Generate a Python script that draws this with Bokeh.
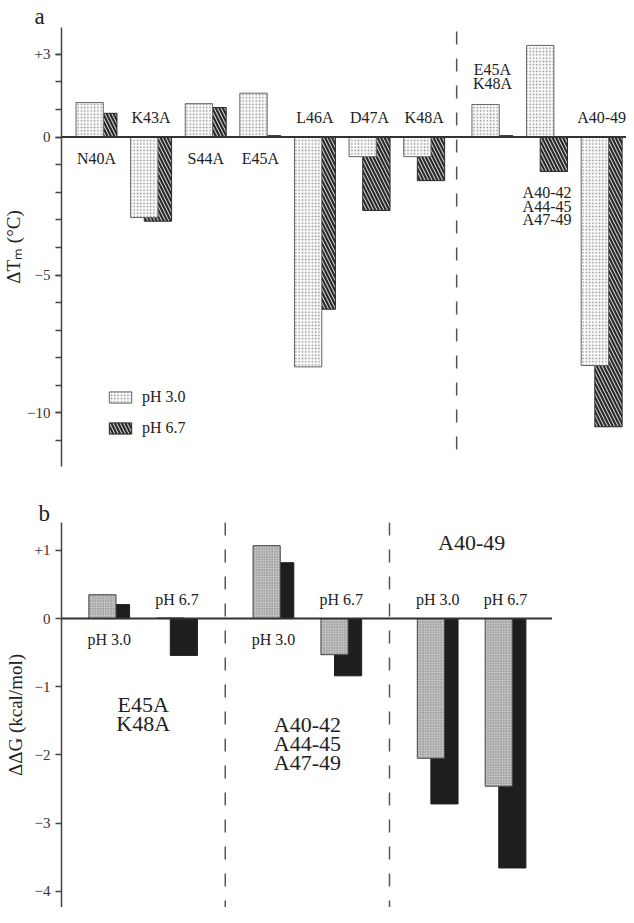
import numpy as np
from bokeh.plotting import figure
from bokeh.layouts import column
from bokeh.models import (ColumnDataSource, FixedTicker, Span, Legend, LegendItem,
                          Range1d, Title)
from bokeh.core.properties import value
from bokeh.embed import file_html
from bokeh.resources import INLINE

# ---------------- data: panel a (delta Tm, degrees C) ----------------
mutants_a = ["N40A", "K43A", "S44A", "E45A", "L46A", "D47A", "K48A",
             "E45A\nK48A", "A40-42\nA44-45\nA47-49", "A40-49"]
dtm_ph30 = [1.25, -2.92, 1.21, 1.59, -8.33, -0.71, -0.71, 1.18, 3.32, -8.28]
dtm_ph67 = [0.86, -3.05, 1.07, 0.05, -6.24, -2.66, -1.58, 0.05, -1.25, -10.5]
label_place_a = ["below", "above", "below", "below", "above", "above", "above",
                 "over", "under", "above"]
n_single = 7
yticks_a = [-10, -5, 0, 3]

# ---------------- data: panel b (delta delta G, kcal/mol) ----------------
groups_b = ["E45A\nK48A", "A40-42\nA44-45\nA47-49", "A40-49"]
conds_b = ["pH 3.0", "pH 6.7"]
ddg_gray = [0.35, 0.01, 1.07, -0.53, -2.05, -2.46]
ddg_black = [0.205, -0.54, 0.82, -0.84, -2.72, -3.66]
yticks_b = [-4, -3, -2, -1, 0, 1]

SERIF = "Liberation Serif"

# ---------------- panel a ----------------
ya = (-11.94, 3.97)
xa = (-0.516, 9.83)
W1, H1 = 626, 472
MB_L1, MB_T1, MB_B1 = 55, 27, 6
p1 = figure(width=W1, height=H1, x_range=Range1d(*xa), y_range=Range1d(*ya),
            output_backend="svg", toolbar_location=None,
            min_border_left=MB_L1, min_border_right=0, min_border_top=MB_T1,
            min_border_bottom=MB_B1)
ppu_a = (H1 - MB_T1 - MB_B1) / (ya[1] - ya[0])

pos_a = np.array([i + (0.25 if i >= n_single else 0.0) for i in range(len(mutants_a))])
src_a = ColumnDataSource(dict(x30=pos_a, x67=pos_a + 0.25, v30=dtm_ph30, v67=dtm_ph67))

r67 = p1.vbar(x="x67", top="v67", bottom=0, width=0.5, source=src_a,
              fill_color="#2b2b2b", line_color="#2b2b2b", line_width=1,
              hatch_pattern="left_diagonal_line", hatch_color="white",
              hatch_weight=0.9, hatch_scale=7)
r30 = p1.vbar(x="x30", top="v30", bottom=0, width=0.5, source=src_a,
              fill_color="#fafafa", line_color="#666666", line_width=1,
              hatch_pattern="dot", hatch_color="#8a8a8a", hatch_weight=1,
              hatch_scale=3.3)

p1.add_layout(Span(location=0, dimension="width", line_color="#333333", line_width=2))

sep_a = (pos_a[n_single - 1] + pos_a[n_single]) / 2 + 0.095
p1.segment(x0=[sep_a], x1=[sep_a], y0=[-(457 - 144.5) / ppu_a], y1=[ya[1]],
           line_color="#555555", line_width=1.5, line_dash="13 14")

lx, ly, lt = [], [], []
for i, name in enumerate(mutants_a):
    lines = name.split("\n")
    cx = pos_a[i] + 0.125
    pl = label_place_a[i]
    n = len(lines)
    for j, t in enumerate(lines):
        if pl == "above":
            y = 19.5 / ppu_a
        elif pl == "below":
            y = -21.5 / ppu_a
        elif pl == "over":
            y = max(dtm_ph30[i], dtm_ph67[i]) + (21 + 14 * (n - 1 - j)) / ppu_a
        else:
            y = min(dtm_ph30[i], dtm_ph67[i]) - (21 + 13.5 * j) / ppu_a
        lx.append(cx); ly.append(y); lt.append(t)
p1.text(x=lx, y=ly, text=lt, text_font=value(SERIF), text_font_size="16px",
        text_align="center", text_baseline="middle", text_color="#222222")

p1.add_layout(Title(text="a", text_font=SERIF, text_font_size="23px",
                    text_font_style="normal", text_color="#222222",
                    align="left", offset=-27, standoff=-2), "above")

leg = Legend(items=[LegendItem(label="pH 3.0", renderers=[r30]),
                    LegendItem(label="pH 6.7", renderers=[r67])],
             location=(45, 29), padding=0, margin=0, spacing=13,
             glyph_width=28, glyph_height=14, label_height=14, label_standoff=8,
             label_text_font=SERIF, label_text_font_size="16px",
             label_text_color="#222222",
             border_line_alpha=0, background_fill_alpha=0)
p1.add_layout(leg)

# ---------------- panel b ----------------
yb = (-4.24, 1.41)
xb = (-0.603, 6.632)
W2, H2 = 552, 435
MB_L2, MB_T2 = 60, 50
p2 = figure(width=W2, height=H2, x_range=Range1d(*xb), y_range=Range1d(*yb),
            output_backend="svg", toolbar_location=None,
            min_border_left=MB_L2, min_border_right=0, min_border_top=MB_T2,
            min_border_bottom=0)
ppu_b = (H2 - MB_T2) / (yb[1] - yb[0])

gstep = 2.42
pos_b = np.array([g * gstep + k for g in range(len(groups_b)) for k in range(len(conds_b))])
src_b = ColumnDataSource(dict(xg=pos_b, xk=pos_b + 0.2, vg=ddg_gray, vk=ddg_black))
p2.vbar(x="xk", top="vk", bottom=0, width=0.4, source=src_b,
        fill_color="#1e1e1e", line_color="#1e1e1e", line_width=1)
p2.vbar(x="xg", top="vg", bottom=0, width=0.4, source=src_b,
        fill_color="#c4c4c4", line_color="#444444", line_width=1,
        hatch_pattern="dot", hatch_color="#6a6a6a", hatch_weight=1, hatch_scale=2.6)

p2.add_layout(Span(location=0, dimension="width", line_color="#333333", line_width=2))
for g in range(1, len(groups_b)):
    p2.add_layout(Span(location=g * gstep - 0.61, dimension="height",
                       line_color="#555555", line_width=1.5, line_dash="13 14"))

tx, ty, tt = [], [], []
for i in range(len(pos_b)):
    cx = pos_b[i] + 0.1
    y = -21 / ppu_b if ddg_black[i] > 0 else 19.5 / ppu_b
    tx.append(cx); ty.append(y); tt.append(conds_b[i % 2])
p2.text(x=tx, y=ty, text=tt, text_font=value(SERIF), text_font_size="16px",
        text_align="center", text_baseline="middle", text_color="#222222")

group_label_top_b = [-1.26, -1.56, 1.12]
gx, gy, gt = [], [], []
for g, name in enumerate(groups_b):
    cx = (pos_b[2 * g] + pos_b[2 * g + 1]) / 2 + 0.1
    for j, t in enumerate(name.split("\n")):
        gx.append(cx); gy.append(group_label_top_b[g] - 19 * j / ppu_b); gt.append(t)
p2.text(x=gx, y=gy, text=gt, text_font=value(SERIF), text_font_size="22px",
        text_align="center", text_baseline="middle", text_color="#222222")

p2.add_layout(Title(text="b", text_font=SERIF, text_font_size="23px",
                    text_font_style="normal", text_color="#222222",
                    align="left", offset=-23, standoff=-6), "above")

# ---------------- shared axis styling ----------------
for p, ticks, minor, over, lab, std in [
        (p1, yticks_a, list(range(-11, 4)), {3: "+3"}, "ΔTₘ (°C)", 0),
        (p2, yticks_b, [], {1: "+1"}, "ΔΔG (kcal/mol)", 6)]:
    p.xaxis.visible = False
    p.grid.visible = False
    p.outline_line_color = None
    ax = p.yaxis[0]
    ax.ticker = FixedTicker(ticks=ticks, minor_ticks=minor)
    ax.major_label_overrides = over
    ax.axis_label = lab
    ax.axis_label_text_font = SERIF
    ax.axis_label_text_font_size = "19px"
    ax.axis_label_text_font_style = "normal"
    ax.axis_label_text_color = "#222222"
    ax.axis_label_standoff = std
    ax.major_label_text_font = SERIF
    ax.major_label_text_font_size = "15px"
    ax.major_label_text_color = "#333333"
    ax.major_label_standoff = 5
    ax.axis_line_color = "#444444"
    ax.axis_line_width = 1.5
    ax.major_tick_line_color = "#444444"
    ax.major_tick_line_width = 1.3
    ax.major_tick_in = 0
    ax.major_tick_out = 6
    ax.minor_tick_line_color = "#444444"
    ax.minor_tick_line_width = 1.3
    ax.minor_tick_in = 0
    ax.minor_tick_out = 6 if minor else 0

layout = column(p1, p2, spacing=0)
open("out.html", "w").write(file_html(layout, INLINE))
